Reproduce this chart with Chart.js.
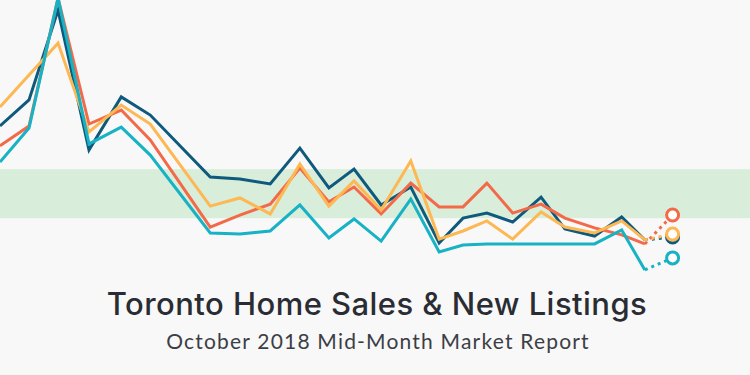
<!DOCTYPE html>
<html>
<head>
<meta charset="utf-8">
<script src="https://cdn.jsdelivr.net/npm/chart.js@4"></script>
<style>
  html, body { margin: 0; padding: 0; background: #f8f8f8; }
  #wrap { position: relative; width: 750px; height: 375px; overflow: hidden; }
  #chartBox { position: absolute; left: 0; top: 0; width: 750px; height: 280px; }
  .title { position: absolute; left: 0; width: 750px; text-align: center; color: #2a2c33; white-space: nowrap; }
  #t1 { top: 285px; left: 2px; font: 500 31px "Inter", sans-serif; letter-spacing: 0.45px; }
  #t2 { top: 328px; left: 3px; font: 400 21px "Lato", sans-serif; letter-spacing: 1.2px; color: #3c3e46; }
</style>
</head>
<body>
<div id="wrap">
  <div id="chartBox"><canvas id="homeChart" width="750" height="280"></canvas></div>
  <div class="title" id="t1">Toronto Home Sales &amp; New Listings</div>
  <div class="title" id="t2">October 2018 Mid-Month Market Report</div>
</div>
<script>
// period positions (last one is the mid-month projection)
const periods = [0, 4.5, 9.0, 13.8, 18.8, 23.3, 32.6, 37.2, 41.9, 46.5, 51.0, 54.9, 59.1, 63.7, 68.1, 71.8, 75.5, 79.5, 83.9, 87.6, 92.2, 96.4, 100, 104.3];

const darkSeries   = [55.0, 64.3, 96.4, 46.4, 65.4, 58.9, 36.8, 36.1, 34.3, 47.1, 32.9, 39.6, 26.8, 33.2, 13.2, 22.1, 23.9, 20.7, 29.6, 18.2, 15.7, 22.5, 14.3, 15.4];
const coralSeries  = [47.9, 55.0, 100.7, 55.7, 60.7, 50.0, 18.9, 23.2, 27.1, 40.0, 27.9, 33.2, 23.6, 34.6, 26.1, 26.1, 34.6, 23.9, 27.1, 22.1, 18.6, 16.1, 12.9, 23.2];
const yellowSeries = [61.8, 73.2, 84.6, 52.9, 62.5, 55.7, 26.4, 29.3, 23.6, 41.4, 26.4, 35.4, 25.0, 42.5, 14.6, 17.5, 21.1, 14.6, 24.3, 18.9, 16.8, 21.1, 14.3, 16.4];
const tealSeries   = [42.1, 54.3, 100.7, 48.6, 54.6, 44.6, 16.8, 16.4, 17.5, 26.8, 15.0, 21.8, 13.9, 28.9, 10.0, 12.5, 12.9, 12.9, 12.9, 12.9, 12.9, 17.9, 3.6, 7.9];

// balanced market band
const bandLow = 22.1;
const bandHigh = 39.6;

const last = periods.length - 1;

function makeSet(values, color) {
    return {
        data: values.map((v, i) => ({ x: periods[i], y: v })),
        borderColor: color,
        borderWidth: 3,
        tension: 0,
        clip: false,
        pointRadius: ctx => ctx.dataIndex === last ? 6 : 0,
        pointBorderWidth: 3,
        pointBorderColor: color,
        pointBackgroundColor: '#ffffff',
        segment: {
            borderDash: ctx => ctx.p1DataIndex === last ? [3, 4] : undefined
        }
    };
}

const bandPlugin = {
    id: 'band',
    beforeDatasetsDraw(chart) {
        const { ctx, scales } = chart;
        const top = scales.y.getPixelForValue(bandHigh);
        const bottom = scales.y.getPixelForValue(bandLow);
        ctx.save();
        ctx.fillStyle = '#d9eddb';
        ctx.fillRect(0, top, chart.width, bottom - top);
        ctx.restore();
    }
};

// first dataset is drawn on top
new Chart(document.getElementById('homeChart').getContext('2d'), {
    type: 'line',
    data: {
        datasets: [
            makeSet(tealSeries, '#17b2c4'),
            makeSet(yellowSeries, '#fdb853'),
            makeSet(coralSeries, '#f26a48'),
            makeSet(darkSeries, '#0f5a7c')
        ]
    },
    options: {
        responsive: false,
        animation: false,
        layout: { padding: 0, autoPadding: false },
        scales: {
            x: { type: 'linear', min: 0, max: 116.3, display: false },
            y: { min: 0, max: 100, display: false }
        },
        plugins: {
            legend: { display: false },
            tooltip: { enabled: false }
        }
    },
    plugins: [bandPlugin]
});
</script>
</body>
</html>
